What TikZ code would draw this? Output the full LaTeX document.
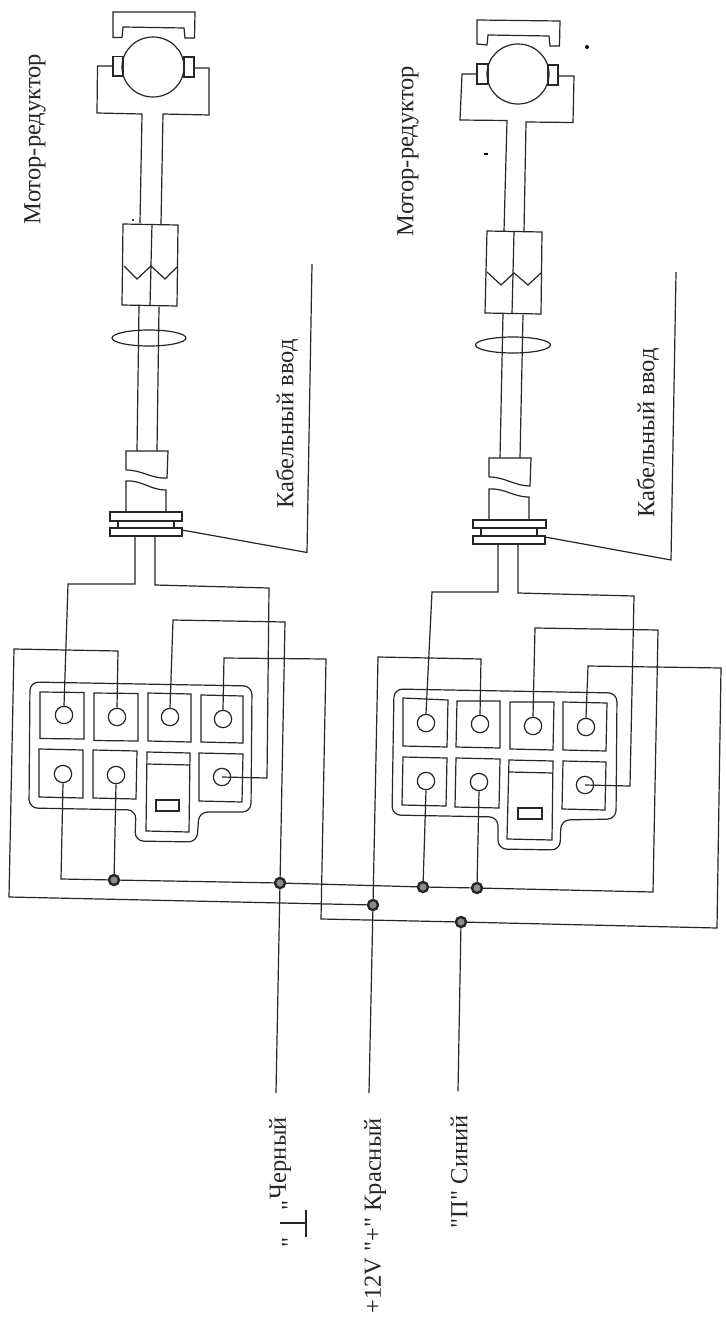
\documentclass[tikz,border=0pt]{standalone}
\usepackage{fontspec}
\setmainfont{Liberation Serif}[Ligatures=TeXOff]
\definecolor{ink}{gray}{0.15}
\tikzset{
  wire/.style={draw=ink,line width=0.9pt,line join=miter},
  pinc/.style={circle,draw=ink,line width=0.9pt,minimum size=13pt,inner sep=0pt},
  junc/.style={circle,draw=black!85,fill=black!45,line width=1.8pt,minimum size=7.5pt,inner sep=0pt},
  lbl/.style={rotate=90,inner sep=0pt,text=black!85,font=\fontsize{18.4}{22}\selectfont},
  speck/.style={fill=black,draw=none}
}
\begin{document}
\begin{tikzpicture}[x=0.75pt,y=-0.75pt]
\useasboundingbox (0,0) rectangle (725,1327);
\fill[white] (0,0) rectangle (725,1327);

% ---------- left motor ----------
\draw[wire] (113,12)--(195,12)--(194.5,38)--(185,38)--(184,28)--(123,27)--(122,37.5)--(113,37.5)--cycle;
\draw[wire] (153,67) ellipse (31 and 30);
\draw[wire] (113,56.5) rectangle (123,76);
\draw[wire] (184,57) rectangle (194,77);
\draw[wire] (113,66)--(97.5,66)--(97,113)--(142,114)--(140,223);
\draw[wire] (194,68)--(209,68)--(209,115)--(163,114)--(161,224);
\draw[wire] (123,224)--(178,225)--(177,306)--(122,305)--cycle;
\draw[wire] (152,224)--(150,306);
\draw[wire] (124,266)--(137,279)--(151,266)--(165,279)--(177,267);
\draw[wire] (139,306)--(137,451);
\draw[wire] (159,307)--(157,451);
\draw[wire] (149,338) ellipse (37 and 8);
\draw[wire] (126,470)--(126,451)--(168,451)--(167,478) .. controls (152,479) and (142,470) .. (126,470);
\draw[wire] (126,512)--(126,481) .. controls (142,480) and (150,490) .. (166,490)--(166,512);
\draw[wire] (110,512) rectangle (182,521);
\draw[wire] (118,521) rectangle (174,528);
\draw[wire] (110,528) rectangle (182,536);
\draw[wire] (182,530)--(307,552.5)--(312,264);
\node[lbl] (tl1) at (35,139) {Мотор-редуктор};
\node[lbl] (tl2) at (287,424) {Кабельный ввод};

% ---------- right motor ----------
\draw[wire] (477,20)--(560,21)--(559.5,46)--(550,46)--(549,36)--(488,35)--(487,45)--(477,44)--cycle;
\draw[wire] (518,74) ellipse (31 and 30);
\draw[wire] (477,64) rectangle (488,84);
\draw[wire] (548,65) rectangle (558,85);
\draw[wire] (477,74)--(462,74)--(460,120)--(507,120.5)--(504,231);
\draw[wire] (558,76)--(574,76)--(573,122.5)--(526,122)--(524,232);
\draw[wire] (487,231)--(542,232)--(541,314)--(485,313)--cycle;
\draw[wire] (514,232)--(512,314);
\draw[wire] (487,272)--(501,285)--(514,273)--(528,285)--(541,273);
\draw[wire] (503,314)--(500,458);
\draw[wire] (523,315)--(520,458);
\draw[wire] (513,345) ellipse (37.5 and 8);
\draw[wire] (489,477)--(489,458)--(531,458)--(530,486) .. controls (515,486) and (505,477) .. (489,477);
\draw[wire] (489,520)--(489,489) .. controls (505,488) and (513,497) .. (529,497)--(529,520);
\draw[wire] (473,520) rectangle (546,528);
\draw[wire] (481,528) rectangle (537,536);
\draw[wire] (473,536) rectangle (545,544);
\draw[wire] (545,537)--(671,560)--(676,272);
\node[lbl] (tr1) at (408,151) {Мотор-редуктор};
\node[lbl] (tr2) at (648,433) {Кабельный ввод};

% ---------- left connector ----------
\draw[wire,rounded corners=6.5pt] (30,682)--(252,686)--(251,812)--(199,812)--(197,842)--(135,841)--(136,810)--(29,808)--cycle;
\draw[wire] (40,692)--(84,692.5)--(84,739)--(40,738.5)--cycle;
\draw[wire] (94,693)--(138,693.5)--(138,741)--(94,740.5)--cycle;
\draw[wire] (148,693)--(191,694)--(191,742)--(148,741)--cycle;
\draw[wire] (201,695)--(243,696)--(243,743)--(201,742)--cycle;
\draw[wire] (39,749)--(83,750)--(83,798)--(39,797)--cycle;
\draw[wire] (93,750)--(137,751)--(136,799)--(93,798)--cycle;
\draw[wire] (147,752)--(190,753)--(189,832)--(146,831)--cycle;
\draw[wire] (147,764)--(190,765);
\draw[wire] (156,800) rectangle (179,811);
\draw[wire] (199,753)--(243,754)--(242,802)--(199,801)--cycle;
\node[pinc] (La) at (64,715) {};
\node[pinc] (Lb) at (117,717) {};
\node[pinc] (Lc) at (170,717) {};
\node[pinc] (Ld) at (223,719) {};
\node[pinc] (Le) at (63,774) {};
\node[pinc] (Lf) at (116,775) {};
\node[pinc] (Lh) at (222,777) {};

% ---------- right connector ----------
\draw[wire,rounded corners=6.5pt] (394,689)--(617,693)--(616,819)--(561,820)--(560,850)--(498,849)--(498,817)--(392,815)--cycle;
\draw[wire] (403,698)--(448,700)--(447,747)--(403,746)--cycle;
\draw[wire] (457,701)--(500,701)--(500,748)--(456,747)--cycle;
\draw[wire] (510,702)--(554,702)--(553,750)--(510,749)--cycle;
\draw[wire] (563,702)--(607,703)--(606,751)--(563,750)--cycle;
\draw[wire] (403,757)--(447,758)--(446,806)--(402,805)--cycle;
\draw[wire] (456,758)--(500,759)--(499,808)--(455,807)--cycle;
\draw[wire] (509,760)--(553,761)--(552,840)--(507,839)--cycle;
\draw[wire] (509,772)--(553,773);
\draw[wire] (518,808) rectangle (542,819);
\draw[wire] (563,761)--(606,762)--(605,810)--(562,809)--cycle;
\node[pinc] (Ra) at (426,723) {};
\node[pinc] (Rb) at (480,724) {};
\node[pinc] (Rc) at (533,726) {};
\node[pinc] (Rd) at (586,727) {};
\node[pinc] (Re) at (426,781) {};
\node[pinc] (Rf) at (479,782) {};
\node[pinc] (Rh) at (585,785) {};

% ---------- junctions and free ends ----------
\node[junc] (J1) at (114,880) {};
\node[junc] (J2) at (280,883) {};
\node[junc] (J3) at (423,887) {};
\node[junc] (J4) at (477,888) {};
\node[junc] (Jr) at (373,905) {};
\node[junc] (Jb) at (461,922) {};
\coordinate (Lw1) at (135,536);
\coordinate (Lw2) at (155,536);
\coordinate (Rw1) at (498,544);
\coordinate (Rw2) at (518,544);
\coordinate (Eblack) at (276,1093);
\coordinate (Ered) at (369,1093);
\coordinate (Eblue) at (458,1091);

% ---------- wires ----------
\draw[wire] (La.north)--(68,584)--(135,584)--(Lw1);
\draw[wire] (Lw2)--(155,585)--(269,588)--(267,778)--(Lh.center);
\draw[wire] (Lb.north)--(118,651)--(14,649)--(9,897)--(Jr);
\draw[wire] (Lc.north)--(173,620)--(285,622)--(J2);
\draw[wire] (Ld.north)--(224,658)--(326,659)--(321,919)--(Jb);
\draw[wire] (Jb)--(717,928)--(721,668)--(588,666)--(Rd.north);
\draw[wire] (Le.south)--(61,879)--(J1);
\draw[wire] (Lf.south)--(J1);
\draw[wire] (J1)--(J2);
\draw[wire] (J2)--(J3);
\draw[wire] (J3)--(J4);
\draw[wire] (J4)--(653,892)--(658,630)--(535,628)--(Rc.north);
\draw[wire] (Rb.north)--(481,659)--(378,657)--(Jr);
\draw[wire] (Ra.north)--(432,592)--(498,592)--(Rw1);
\draw[wire] (Rw2)--(518,593)--(634,596)--(630,786)--(Rh.center);
\draw[wire] (Re.south)--(J3);
\draw[wire] (Rf.south)--(J4);
\draw[wire] (J2)--(Eblack);
\draw[wire] (Jr)--(Ered);
\draw[wire] (Jb)--(Eblue);

% ---------- bottom labels ----------
\node[lbl,anchor=east] (b1) at (280,1117) {Черный};
\node[lbl] (q1) at (290,1205) {"};
\node[lbl] (q2) at (290,1242) {"};
\draw[wire] (280,1223)--(306,1223);
\draw[wire] (306,1210)--(306,1237);
\node[lbl,anchor=east] (b2) at (375,1118) {+12V "+" Красный};
\node[lbl,anchor=east] (b3) at (459,1115) {"П" Синий};

% ---------- scan specks ----------
\fill[speck] (587,47) circle (2);
\fill[speck] (484,153) rectangle (488,155);
\fill[speck] (133,220) circle (1.2);
\end{tikzpicture}
\end{document}
